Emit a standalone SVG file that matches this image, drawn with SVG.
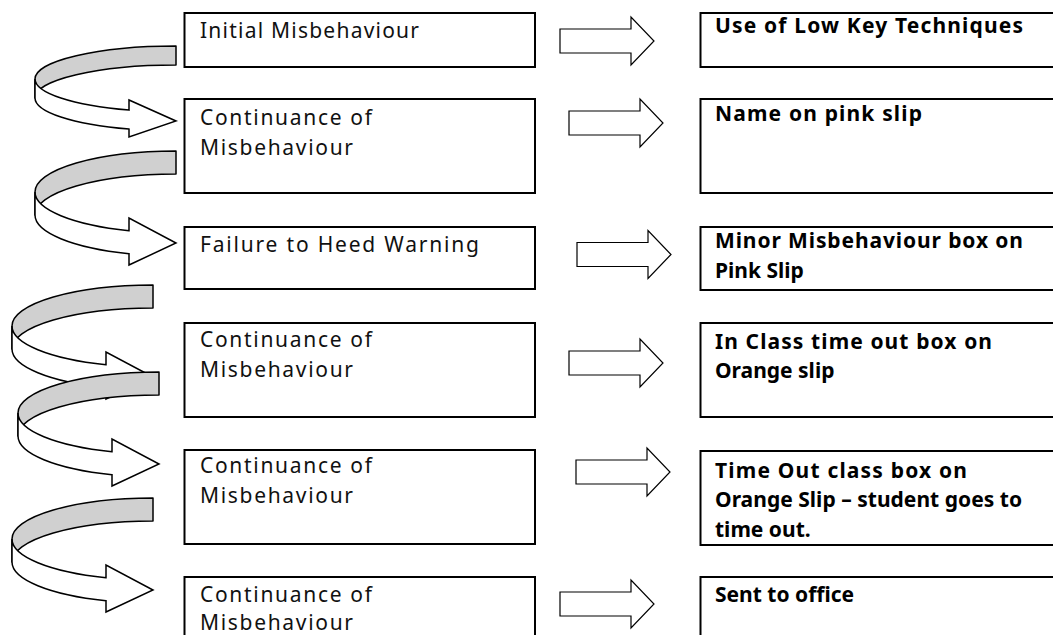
<svg xmlns="http://www.w3.org/2000/svg" width="1053" height="635" viewBox="0 0 1053 635">
<style>
.box{fill:#fff;stroke:#000;stroke-width:2}
.mt{font-family:"Noto Sans","Liberation Sans",sans-serif;font-size:21px;fill:#111}
.rt{font-family:"Noto Sans","Liberation Sans",sans-serif;font-size:21px;font-weight:bold;fill:#000}
.blk{fill:#fff;stroke:#000;stroke-width:1.2;stroke-linejoin:miter}
.band{fill:#d0d0d0;stroke:#000;stroke-width:1.5;stroke-linejoin:round}
.front{fill:#fff;stroke:#000;stroke-width:1.5;stroke-linejoin:miter}
</style>
<defs>
<path id="blkArrow" d="M0,-12 H71 V-24 L94,0 L71,24 V12 H0 Z"/>
<g id="curveBig">
<path class="band" d="M0,-41 A141,41 0 0 0 -141,0 L-141,23 A141,41 0 0 1 0,-18 Z"/>
<path class="front" d="M-141,0 A141,41 0 0 0 -47,38.7 L-47,26 L0,51 L-47,73 L-47,61.7 A141,41 0 0 1 -141,23 Z"/>
</g>
</defs>
<rect width="1053" height="635" fill="#fff"/>
<g id="connectors">
<g id="curve1" transform="translate(176,79)">
<path class="band" d="M0,-33 A141,33 0 0 0 -141,0 L-141,19 A141,33 0 0 1 0,-14 Z"/>
<path class="front" d="M-141,0 A141,33 0 0 0 -47,31.1 L-47,21 L0,42 L-47,58 L-47,50.1 A141,33 0 0 1 -141,19 Z"/>
</g>
<use id="curve2" href="#curveBig" transform="translate(176,192)"/>
<use id="curve3" href="#curveBig" transform="translate(153,326)"/>
<use id="curve4" href="#curveBig" transform="translate(159,413)"/>
<use id="curve5" href="#curveBig" transform="translate(153,539)"/>
<use class="blk" href="#blkArrow" transform="translate(560,41)"/>
<use class="blk" href="#blkArrow" transform="translate(569,123)"/>
<use class="blk" href="#blkArrow" transform="translate(577,254.5)"/>
<use class="blk" href="#blkArrow" transform="translate(569,363)"/>
<use class="blk" href="#blkArrow" transform="translate(576,472)"/>
<use class="blk" href="#blkArrow" transform="translate(560,604)"/>
</g>
<g id="m1"><rect class="box" x="184.5" y="13" width="350.5" height="54"/><text class="mt" x="200" y="38" textLength="219" lengthAdjust="spacing">Initial Misbehaviour</text></g>
<g id="m2"><rect class="box" x="184.5" y="99" width="350.5" height="94"/><text class="mt" x="200" y="125" textLength="172" lengthAdjust="spacing">Continuance of</text><text class="mt" x="200" y="155" textLength="153" lengthAdjust="spacing">Misbehaviour</text></g>
<g id="m3"><rect class="box" x="184.5" y="227" width="350.5" height="62"/><text class="mt" x="200" y="252" textLength="279" lengthAdjust="spacing">Failure to Heed Warning</text></g>
<g id="m4"><rect class="box" x="184.5" y="323" width="350.5" height="94"/><text class="mt" x="200" y="347" textLength="172" lengthAdjust="spacing">Continuance of</text><text class="mt" x="200" y="377" textLength="153" lengthAdjust="spacing">Misbehaviour</text></g>
<g id="m5"><rect class="box" x="184.5" y="450" width="350.5" height="94"/><text class="mt" x="200" y="473" textLength="172" lengthAdjust="spacing">Continuance of</text><text class="mt" x="200" y="503" textLength="153" lengthAdjust="spacing">Misbehaviour</text></g>
<g id="m6"><rect class="box" x="184.5" y="577" width="350.5" height="80"/><text class="mt" x="200" y="602" textLength="172" lengthAdjust="spacing">Continuance of</text><text class="mt" x="200" y="630" textLength="153" lengthAdjust="spacing">Misbehaviour</text></g>
<g id="r1"><rect class="box" x="700.5" y="13" width="370" height="54"/><text class="rt" x="715" y="33" textLength="308" lengthAdjust="spacing">Use of Low Key Techniques</text></g>
<g id="r2"><rect class="box" x="700.5" y="99" width="370" height="94"/><text class="rt" x="715" y="121" textLength="207" lengthAdjust="spacing">Name on pink slip</text></g>
<g id="r3"><rect class="box" x="700.5" y="227" width="370" height="63"/><text class="rt" x="715" y="248" textLength="308" lengthAdjust="spacing">Minor Misbehaviour box on</text><text class="rt" x="715" y="278">Pink Slip</text></g>
<g id="r4"><rect class="box" x="700.5" y="323" width="370" height="94"/><text class="rt" x="715" y="349" textLength="277" lengthAdjust="spacing">In Class time out box on</text><text class="rt" x="715" y="378">Orange slip</text></g>
<g id="r5"><rect class="box" x="700.5" y="451" width="370" height="94"/><text class="rt" x="715" y="478" textLength="252" lengthAdjust="spacing">Time Out class box on</text><text class="rt" x="715" y="507" textLength="307" lengthAdjust="spacing">Orange Slip – student goes to</text><text class="rt" x="715" y="537">time out.</text></g>
<g id="r6"><rect class="box" x="700.5" y="577" width="370" height="80"/><text class="rt" x="715" y="602">Sent to office</text></g>
</svg>
